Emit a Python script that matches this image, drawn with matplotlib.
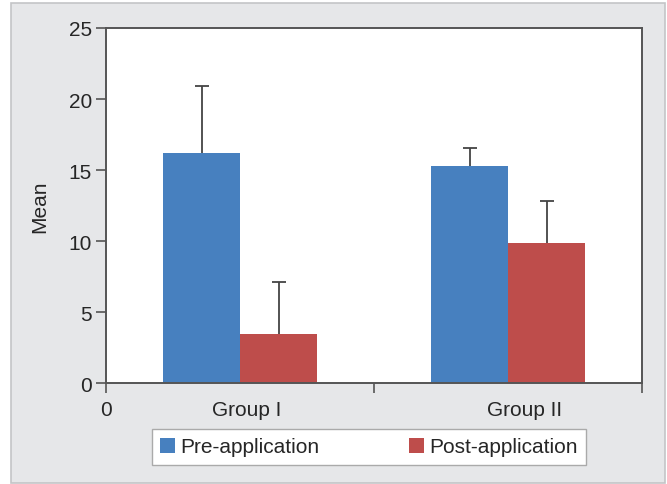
import numpy as np
import matplotlib.pyplot as plt
from matplotlib.patches import Rectangle

plt.rcParams['font.family'] = ['Liberation Sans', 'DejaVu Sans']

# Data
groups = ['Group I', 'Group II']
series = ['Pre-application', 'Post-application']
pre_mean = [16.2, 15.3]
pre_err = [4.75, 1.25]
post_mean = [3.5, 9.9]
post_err = [3.6, 2.9]
yticks = [0, 5, 10, 15, 20, 25]

blue = '#4780bf'
red = '#be4d4b'
text_col = '#262626'
spine_col = '#555555'

fig = plt.figure(figsize=(6.67, 4.85), dpi=100)
fig.patch.set_facecolor('white')
# grey panel with thin border, behind the axes
fig.patches.append(Rectangle((11 / 667, 1 / 485), 654 / 667, 480 / 485,
                             transform=fig.transFigure, facecolor='#e6e7e9',
                             edgecolor='#c4c5c7', linewidth=1.2, zorder=-10))

ax = fig.add_axes([106.4 / 667, 100.7 / 485, 536 / 667, 355.3 / 485])
ax.set_facecolor('white')

centers = np.array([0.5, 1.5])
w = 0.287
ax.bar(centers - w / 2, pre_mean, w, color=blue, label=series[0], zorder=2)
ax.bar(centers + w / 2, post_mean, w, color=red, label=series[1], zorder=2)
# upper error bars only, cap on top
for xs, m, e in [(centers - w / 2, pre_mean, pre_err), (centers + w / 2, post_mean, post_err)]:
    eb = ax.errorbar(xs, m, yerr=[np.zeros(2), e], fmt='none', ecolor='#444444',
                     elinewidth=1.3, capsize=5, capthick=1.3, zorder=3)
    eb[1][0].set_visible(False)

ax.set_xlim(0, 2)
ax.set_ylim(0, 25)
ax.set_yticks(yticks)
ax.set_xticks([0, 1, 2])
ax.set_xticklabels(['0', '', ''])
ax.set_xticks([0.523, 1.56], minor=True)
ax.set_xticklabels(groups, minor=True)
ax.tick_params(axis='both', which='major', direction='out', length=7,
               width=1.2, color=spine_col, labelsize=15, labelcolor=text_col)
ax.tick_params(axis='y', which='major', pad=3.5)
ax.tick_params(axis='x', which='major', pad=5)
ax.tick_params(axis='x', which='minor', length=0, pad=12, labelsize=15,
               labelcolor=text_col)
for s in ax.spines.values():
    s.set_color(spine_col)
    s.set_linewidth(1.4)

ax.set_ylabel('Mean', fontsize=15, color=text_col, labelpad=14)

leg = fig.legend(loc='center', bbox_to_anchor=(369 / 667, 37 / 485), ncol=2,
                 fontsize=15, frameon=True, fancybox=False, framealpha=1,
                 handlelength=0.72, handleheight=0.72, handletextpad=0.25,
                 columnspacing=4.3, borderpad=0.4, borderaxespad=0)
leg.get_frame().set_edgecolor('#aaaaaa')
leg.get_frame().set_linewidth(1.0)
for t in leg.get_texts():
    t.set_color(text_col)

fig.savefig('out.png', dpi=100)
